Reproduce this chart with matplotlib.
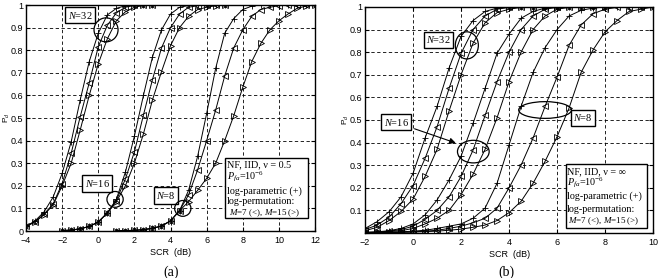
import matplotlib
matplotlib.use("Agg")
import matplotlib.pyplot as plt
from matplotlib.patches import Ellipse, Rectangle

plt.rcParams['font.family'] = 'Liberation Sans'

# ---- (a) NF, IID, v = 0.5 ----
xa32 = [-4, -3.5, -3, -2.5, -2, -1.5, -1, -0.5, 0, 0.5, 1, 1.5, 2, 2.5, 3]
a32_par = [0.02, 0.045, 0.085, 0.15, 0.255, 0.395, 0.58, 0.75, 0.875, 0.956, 0.985, 0.997, 1, 1, 1]
a32_m7 = [0.02, 0.042, 0.075, 0.12, 0.21, 0.344, 0.506, 0.656, 0.815, 0.91, 0.965, 0.99, 0.998, 1, 1]
a32_m15 = [0.02, 0.04, 0.072, 0.115, 0.20, 0.30, 0.447, 0.60, 0.74, 0.85, 0.93, 0.97, 0.99, 0.998, 1]

xa16 = [-2, -1.5, -1, -0.5, 0, 0.5, 1, 1.5, 2, 2.5, 3, 3.5, 4, 4.5, 5, 5.5, 6, 6.5, 7]
a16_par = [0.002, 0.004, 0.01, 0.02, 0.04, 0.08, 0.14, 0.26, 0.42, 0.60, 0.77, 0.89, 0.96, 0.99, 0.998, 1, 1, 1, 1]
a16_m7 = [0.002, 0.004, 0.01, 0.02, 0.04, 0.08, 0.135, 0.23, 0.35, 0.513, 0.67, 0.81, 0.90, 0.96, 0.99, 0.997, 1, 1, 1]
a16_m15 = [0.002, 0.004, 0.01, 0.02, 0.04, 0.08, 0.13, 0.20, 0.30, 0.43, 0.58, 0.705, 0.82, 0.90, 0.95, 0.98, 0.99, 0.997, 1]

xa8 = [1, 1.5, 2, 2.5, 3, 3.5, 4, 4.5, 5, 5.5, 6, 6.5, 7, 7.5, 8, 8.5, 9, 9.5, 10, 10.5, 11, 11.5, 12]
a8_par = [0.001, 0.002, 0.003, 0.006, 0.012, 0.022, 0.045, 0.09, 0.18, 0.33, 0.52, 0.72, 0.875, 0.94, 0.98, 0.995, 1, 1, 1, 1, 1, 1, 1]
a8_m7 = [0.001, 0.002, 0.003, 0.006, 0.012, 0.022, 0.045, 0.09, 0.16, 0.27, 0.40, 0.535, 0.686, 0.81, 0.89, 0.95, 0.98, 0.99, 0.997, 1, 1, 1, 1]
a8_m15 = [0.001, 0.002, 0.003, 0.006, 0.012, 0.022, 0.045, 0.09, 0.13, 0.18, 0.233, 0.30, 0.40, 0.51, 0.636, 0.75, 0.83, 0.89, 0.93, 0.96, 0.985, 0.995, 1]

# ---- (b) NF, IID, v = inf ----
xb32 = [-2, -1.5, -1, -0.5, 0, 0.5, 1, 1.5, 2, 2.5, 3, 3.5, 4, 4.5, 5, 5.5, 6]
b32_par = [0.02, 0.05, 0.094, 0.16, 0.264, 0.42, 0.56, 0.73, 0.87, 0.94, 0.98, 0.995, 1, 1, 1, 1, 1]
b32_m7 = [0.015, 0.035, 0.07, 0.13, 0.21, 0.33, 0.47, 0.64, 0.795, 0.90, 0.96, 0.99, 0.998, 1, 1, 1, 1]
b32_m15 = [0.01, 0.025, 0.055, 0.095, 0.15, 0.25, 0.37, 0.54, 0.70, 0.84, 0.93, 0.975, 0.99, 0.998, 1, 1, 1]

xb16 = [-2, -1.5, -1, -0.5, 0, 0.5, 1, 1.5, 2, 2.5, 3, 3.5, 4, 4.5, 5, 5.5, 6, 6.5, 7, 7.5, 8]
b16_par = [0.003, 0.005, 0.01, 0.02, 0.04, 0.08, 0.146, 0.235, 0.34, 0.485, 0.64, 0.795, 0.88, 0.95, 0.98, 0.995, 1, 1, 1, 1, 1]
b16_m7 = [0.002, 0.004, 0.008, 0.015, 0.03, 0.06, 0.10, 0.16, 0.25, 0.367, 0.52, 0.67, 0.80, 0.90, 0.96, 0.99, 0.998, 1, 1, 1, 1]
b16_m15 = [0.002, 0.003, 0.006, 0.01, 0.02, 0.04, 0.065, 0.10, 0.17, 0.26, 0.37, 0.51, 0.67, 0.80, 0.90, 0.96, 0.99, 0.998, 1, 1, 1]

xb8 = [-2, -1.5, -1, -0.5, 0, 0.5, 1, 1.5, 2, 2.5, 3, 3.5, 4, 4.5, 5, 5.5, 6, 6.5, 7, 7.5, 8, 8.5, 9, 9.5, 10]
b8_par = [0.001, 0.002, 0.003, 0.005, 0.008, 0.012, 0.02, 0.03, 0.04, 0.065, 0.11, 0.22, 0.39, 0.56, 0.71, 0.82, 0.90, 0.96, 0.985, 0.995, 1, 1, 1, 1, 1]
b8_m7 = [0.001, 0.001, 0.002, 0.003, 0.005, 0.008, 0.012, 0.02, 0.03, 0.045, 0.065, 0.11, 0.20, 0.30, 0.42, 0.56, 0.69, 0.83, 0.92, 0.97, 0.99, 0.998, 1, 1, 1]
b8_m15 = [0.001, 0.001, 0.002, 0.003, 0.004, 0.006, 0.008, 0.012, 0.017, 0.025, 0.035, 0.055, 0.09, 0.14, 0.22, 0.317, 0.426, 0.553, 0.71, 0.81, 0.89, 0.94, 0.98, 0.99, 1]

a_curves = [(xa32, a32_par, a32_m7, a32_m15), (xa16, a16_par, a16_m7, a16_m15), (xa8, a8_par, a8_m7, a8_m15)]
b_curves = [(xb32, b32_par, b32_m7, b32_m15), (xb16, b16_par, b16_m7, b16_m15), (xb8, b8_par, b8_m7, b8_m15)]

info_lines = ['$P_{fa}$=10$^{-6}$', 'log-parametric (+)', 'log-permutation:']
info_last = '$\\mathit{M}$=7 (<), $\\mathit{M}$=15 (>)'

serif = 'Liberation Serif'
box = dict(boxstyle='square,pad=0.25', fc='white', ec='black', lw=1.0)
plt.rcParams['mathtext.fontset'] = 'custom'
plt.rcParams['mathtext.rm'] = serif
plt.rcParams['mathtext.it'] = serif + ':italic'


def draw_curves(ax, curves):
    for x, par, m7, m15 in curves:
        ax.plot(x, par, color='black', lw=0.7, marker='+', ms=4.5, mew=0.6)
        ax.plot(x, m7, color='black', lw=0.7, marker='<', ms=4.5, mew=0.6, mfc='none')
        ax.plot(x, m15, color='black', lw=0.7, marker='>', ms=4.5, mew=0.6, mfc='none')


def style_axes(ax, xlim, xticks, yticklabels):
    ax.set_xlim(xlim)
    ax.set_ylim(0, 1)
    ax.set_xticks(xticks)
    ax.set_yticks([i / 10 for i in range(11)])
    ax.set_yticklabels(yticklabels)
    ax.grid(True, color='black', linestyle=(0, (4, 3)), lw=0.6)
    ax.tick_params(direction='in', top=True, right=True, length=3, labelsize=6.5, pad=2)
    ax.tick_params(axis='x', pad=3.5)
    for s in ax.spines.values():
        s.set_linewidth(1.0)
    ax.set_xlabel('SCR  (dB)', fontsize=6.5, labelpad=2)
    ax.set_ylabel('P$_d$', fontsize=6, family='Liberation Sans')
    ax.yaxis.set_label_coords(-0.05, 0.5)


def label(ax, x, y, n):
    ax.text(x, y, '$\\mathit{N}$=' + n, family=serif, fontsize=7.5, ha='center', va='center', bbox=box)


def circle(ax, x, y, w, h):
    ax.add_patch(Ellipse((x, y), w, h, fill=False, ec='black', lw=0.9, zorder=5))


def info(ax, x0, x1, y0, y1, nu, ys, xt, xm):
    ax.add_patch(Rectangle((x0, y0), x1 - x0, y1 - y0, fc='white', ec='black', lw=1.0, zorder=6))
    lines = ['NF, IID, \u03bd = ' + nu] + info_lines
    for t, y in zip(lines, ys[:4]):
        ax.text(xt, y, t, family=serif, fontsize=7.3, ha='left', va='center', zorder=7)
    ax.text(xm, ys[4], info_last, family=serif, fontsize=6.5, ha='left', va='center', zorder=7)


fig = plt.figure(figsize=(6.59, 2.78), dpi=100)
axa = fig.add_axes([0.0395, 0.169, 0.4385, 0.813])
axb = fig.add_axes([0.554, 0.162, 0.437, 0.813])

draw_curves(axa, a_curves)
style_axes(axa, (-4, 12), [-4, -2, 0, 2, 4, 6, 8, 10, 12], ['0', '0.1', '0.2', '0.3', '0.4', '0.5', '0.6', '0.7', '0.8', '0.9', '1'])
label(axa, -1.0, 0.955, '32')
circle(axa, 0.43, 0.89, 1.33, 0.106)
label(axa, -0.05, 0.21, '16')
circle(axa, 0.93, 0.14, 0.9, 0.07)
label(axa, 3.75, 0.157, '8')
circle(axa, 4.68, 0.10, 0.9, 0.07)
info(axa, 7.02, 11.6, 0.058, 0.323, '0.5', [0.295, 0.238, 0.177, 0.130, 0.079], 7.1, 7.24)

draw_curves(axb, b_curves)
style_axes(axb, (-2, 10), [-2, 0, 2, 4, 6, 8, 10], ['', '0.1', '0.2', '0.3', '0.4', '0.5', '0.6', '0.7', '0.8', '0.9', '1'])
label(axb, 1.06, 0.855, '32')
circle(axb, 2.24, 0.83, 0.96, 0.12)
label(axb, -0.71, 0.49, '16')
axb.annotate('', xy=(1.89, 0.394), xytext=(-0.05, 0.465),
             arrowprops=dict(arrowstyle='-|>', color='black', lw=0.8, mutation_scale=9))
circle(axb, 2.51, 0.36, 1.32, 0.10)
label(axb, 7.08, 0.51, '8')
circle(axb, 5.5, 0.544, 2.2, 0.074)
info(axb, 6.36, 9.74, 0.021, 0.305, '\u221e', [0.271, 0.22, 0.164, 0.106, 0.05], 6.40, 6.45)

fig.text(0.26, 0.02, '(a)', family=serif, fontsize=10, ha='center', va='center')
fig.text(0.768, 0.02, '(b)', family=serif, fontsize=10, ha='center', va='center')

fig.savefig('out.png', dpi=100)
